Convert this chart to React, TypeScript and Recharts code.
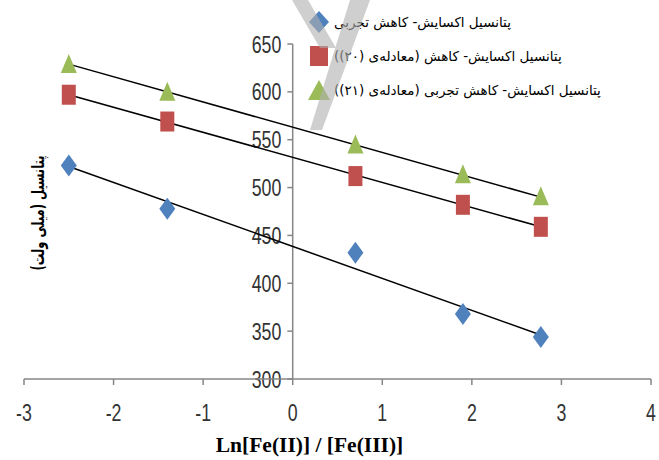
import {
  ComposedChart,
  Scatter,
  XAxis,
  YAxis,
  ReferenceLine,
  Legend,
} from "recharts";

const xValues = [-2.5, -1.4, 0.7, 1.9, 2.77];
const experimental = [523, 478, 432, 368, 344];
const equation20 = [597, 569, 512, 482, 459];
const equation21 = [628, 599, 544, 513, 490];

// trendline end points
const trendX = [-2.5, 2.77];
const trendExperimental = [522, 346];
const trendEquation20 = [597, 459];
const trendEquation21 = [629, 490];

const xTicks = [-3, -2, -1, 0, 1, 2, 3, 4];
const yTicks = [300, 350, 400, 450, 500, 550, 600, 650];

const seriesNames = [
  "پتانسیل اکسایش- کاهش تجربی",
  "پتانسیل اکسایش- کاهش (معادله‌ی (۲۰))",
  "پتانسیل اکسایش- کاهش تجربی (معادله‌ی (۲۱))",
];
const yTitle = "پتانسیل (میلی ولت)";
const xTitle = "Ln[Fe(II)] / [Fe(III)]";

const BLUE = "#4F81BD";
const RED = "#C0504D";
const GREEN = "#9BBB59";
const AXIS = "#868686";
const TICK_FONT = "'Liberation Sans', Arial, sans-serif";

const toPoints = (ys: number[], xs: number[]) => xs.map((x, i) => ({ x, y: ys[i] }));

// condensed tick text, like the narrow font of the original
const NarrowText = ({ x, y, value, anchor }: any) => (
  <text
    transform={`translate(${x},${y}) scale(0.74,1)`}
    textAnchor={anchor}
    dominantBaseline="central"
    fill="#333"
    fontSize={24}
    fontFamily={TICK_FONT}
  >
    {value}
  </text>
);

const XTick = (props: any) => {
  const { x, y, payload } = props;
  return <NarrowText x={x} y={y + 25} value={payload.value} anchor="middle" />;
};

const YTickLabel = (props: any) => {
  const { viewBox, value } = props;
  if (!viewBox) return null;
  return <NarrowText x={viewBox.x - 6} y={viewBox.y} value={value} anchor="end" />;
};

const XTitle = (props: any) => {
  const { viewBox } = props;
  if (!viewBox) return null;
  return (
    <text
      x={viewBox.x + viewBox.width / 2 - 28}
      y={viewBox.y + 66}
      textAnchor="middle"
      dominantBaseline="central"
      fill="#000"
      fontSize={21.5}
      fontWeight="bold"
      fontFamily="'Liberation Serif', 'Times New Roman', serif"
    >
      {xTitle}
    </text>
  );
};

const Diamond = (props: any) => {
  const { cx, cy } = props;
  if (cx == null || cy == null) return <g />;
  return (
    <polygon
      points={`${cx},${cy - 11} ${cx + 8},${cy} ${cx},${cy + 11} ${cx - 8},${cy}`}
      fill={BLUE}
    />
  );
};

const Square = (props: any) => {
  const { cx, cy } = props;
  if (cx == null || cy == null) return <g />;
  return <rect x={cx - 7} y={cy - 10} width={14} height={20} fill={RED} />;
};

const Triangle = (props: any) => {
  const { cx, cy } = props;
  if (cx == null || cy == null) return <g />;
  return (
    <polygon
      points={`${cx},${cy - 11} ${cx + 8},${cy + 8} ${cx - 8},${cy + 8}`}
      fill={GREEN}
    />
  );
};

const NoDot = () => <g />;

const legendMarkers = [
  <polygon points="10,0 20,11 10,22 0,11" fill={BLUE} />,
  <rect x={1} y={1} width={18} height={20} fill={RED} />,
  <polygon points="10,1 21,21 -1,21" fill={GREEN} />,
];

const LegendContent = () => (
  <div style={{ display: "flex", flexDirection: "column", gap: 12 }}>
    {seriesNames.map((name, i) => (
      <div key={i} style={{ display: "flex", alignItems: "center", height: 22 }}>
        <svg width={22} height={22} style={{ overflow: "visible" }}>
          {legendMarkers[i]}
        </svg>
        <span
          dir="rtl"
          style={{
            marginLeft: 3,
            fontFamily: "'DejaVu Sans', sans-serif",
            fontSize: 13.5,
            color: "#000",
            whiteSpace: "nowrap",
          }}
        >
          {name}
        </span>
      </div>
    ))}
  </div>
);

export default function App() {
  return (
    <div style={{ position: "absolute", left: 0, top: 0, width: 659, height: 460, background: "#fff" }}>
      <ComposedChart
        width={659}
        height={460}
        margin={{ top: 44, right: 8, left: 24, bottom: 0 }}
      >
        <XAxis
          type="number"
          dataKey="x"
          domain={[-3, 4]}
          ticks={xTicks}
          allowDataOverflow
          height={81}
          axisLine={{ stroke: AXIS, strokeWidth: 1.5 }}
          tickLine={{ stroke: AXIS, strokeWidth: 1.5 }}
          tickSize={6}
          tick={XTick}
          label={<XTitle />}
        />
        <YAxis
          type="number"
          dataKey="y"
          domain={[300, 650]}
          ticks={yTicks}
          allowDataOverflow
          hide
        />
        <ReferenceLine x={0} stroke={AXIS} strokeWidth={1.5} />
        {yTicks.map((v) => (
          <ReferenceLine
            key={v}
            segment={[
              { x: -0.06, y: v },
              { x: 0, y: v },
            ]}
            stroke={AXIS}
            strokeWidth={1.5}
            label={<YTickLabel value={v} />}
          />
        ))}
        <Scatter
          name="trend-exp"
          data={toPoints(trendExperimental, trendX)}
          line={{ stroke: "#000", strokeWidth: 1.5 }}
          shape={NoDot}
          legendType="none"
          isAnimationActive={false}
        />
        <Scatter
          name="trend-20"
          data={toPoints(trendEquation20, trendX)}
          line={{ stroke: "#000", strokeWidth: 1.5 }}
          shape={NoDot}
          legendType="none"
          isAnimationActive={false}
        />
        <Scatter
          name="trend-21"
          data={toPoints(trendEquation21, trendX)}
          line={{ stroke: "#000", strokeWidth: 1.5 }}
          shape={NoDot}
          legendType="none"
          isAnimationActive={false}
        />
        <Scatter
          name={seriesNames[0]}
          data={toPoints(experimental, xValues)}
          shape={Diamond}
          isAnimationActive={false}
        />
        <Scatter
          name={seriesNames[1]}
          data={toPoints(equation20, xValues)}
          shape={Square}
          isAnimationActive={false}
        />
        <Scatter
          name={seriesNames[2]}
          data={toPoints(equation21, xValues)}
          shape={Triangle}
          isAnimationActive={false}
        />
        <Legend
          content={LegendContent}
          layout="vertical"
          align="center"
          verticalAlign="middle"
          wrapperStyle={{ position: "absolute", top: 11, left: 309, width: "auto", height: "auto" }}
        />
      </ComposedChart>
      <div
        dir="rtl"
        style={{
          position: "absolute",
          left: 38,
          top: 213,
          transform: "translate(-50%, -50%) rotate(-90deg) scaleX(0.68)",
          fontFamily: "'DejaVu Sans', sans-serif",
          fontWeight: "bold",
          fontSize: 17,
          whiteSpace: "nowrap",
          color: "#000",
        }}
      >
        {yTitle}
      </div>
      {/* faint watermark strokes over the top of the picture */}
      <svg
        width={659}
        height={460}
        style={{ position: "absolute", left: 0, top: 0, pointerEvents: "none" }}
      >
        <g fill="#b0b0b0" opacity={0.6}>
          <polygon points="292,0 308,0 336,48 320,48" />
          <polygon points="350,0 370,0 322,130 310,130" />
        </g>
      </svg>
    </div>
  );
}
